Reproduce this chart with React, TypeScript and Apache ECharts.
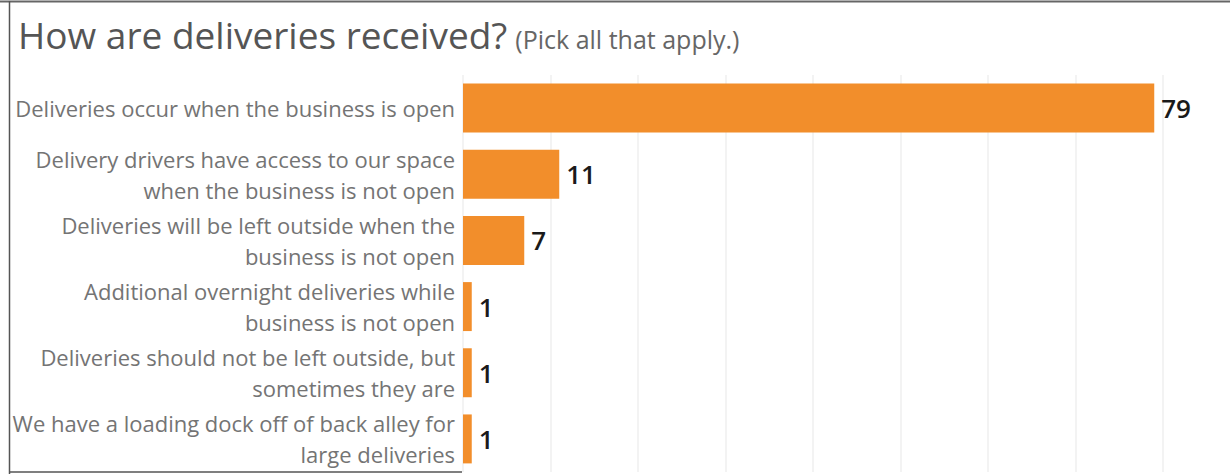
import React, { useEffect, useRef } from "react";
import * as echarts from "echarts";

const categories = [
  "Deliveries occur when the business is open",
  "Delivery drivers have access to our space\nwhen the business is not open",
  "Deliveries will be left outside when the\nbusiness is not open",
  "Additional overnight deliveries while\nbusiness is not open",
  "Deliveries should not be left outside, but\nsometimes they are",
  "We have a loading dock off of back alley for\nlarge deliveries",
];
const counts = [79, 11, 7, 1, 1, 1];
const titleMain = "How are deliveries received?";
const titleSub = "(Pick all that apply.)";
const axisMin = 0;
const axisMax = 80;
const axisStep = 10;

export default function App() {
  const ref = useRef<HTMLDivElement>(null);
  useEffect(() => {
    document.body.style.margin = "0";
    const chart = echarts.init(ref.current!, null, { renderer: "svg" });
    const font = "'Open Sans', sans-serif";
    chart.setOption({
      animation: false,
      backgroundColor: "#ffffff",
      title: {
        left: 13,
        top: 11,
        text: `{a|${titleMain}}{b|${titleSub}}`,
        textStyle: {
          fontWeight: "normal",
          rich: {
            a: { fontSize: 37, fontWeight: "normal", color: "#555555", fontFamily: font, verticalAlign: "bottom" },
            b: { fontSize: 25, fontWeight: "normal", color: "#666666", fontFamily: font, verticalAlign: "bottom", padding: [0, 0, 2, 8] },
          },
        },
      },
      grid: { left: 463, top: 75, width: 700, height: 397, containLabel: false },
      xAxis: {
        type: "value",
        min: axisMin,
        max: axisMax,
        interval: axisStep,
        axisLabel: { show: false },
        axisLine: { show: false },
        axisTick: { show: false },
        splitLine: { show: true, lineStyle: { color: "#efefef", width: 1.5 } },
      },
      yAxis: {
        type: "category",
        inverse: true,
        data: categories,
        axisLine: { show: false },
        axisTick: { show: false },
        axisLabel: {
          margin: 8,
          align: "right",
          fontSize: 22,
          lineHeight: 31,
          color: "#747474",
          fontFamily: font,
        },
      },
      series: [
        {
          type: "bar",
          data: counts,
          barCategoryGap: "26%",
          itemStyle: { color: "#F28E2B" },
          label: {
            show: true,
            position: "right",
            distance: 7,
            fontSize: 26,
            fontWeight: 600,
            color: "#1a1a1a",
            fontFamily: font,
          },
        },
      ],
      graphic: [
        { type: "line", shape: { x1: 0, y1: 1.5, x2: 1230, y2: 1.5 }, style: { stroke: "#666666", lineWidth: 2 } },
        { type: "line", shape: { x1: 9.5, y1: 1, x2: 9.5, y2: 474 }, style: { stroke: "#555555", lineWidth: 1.5 } },
        { type: "line", shape: { x1: 9, y1: 472, x2: 462, y2: 472 }, style: { stroke: "#555555", lineWidth: 1.5 } },
      ],
    });
    return () => chart.dispose();
  }, []);
  return <div ref={ref} style={{ width: 1230, height: 474 }} />;
}
